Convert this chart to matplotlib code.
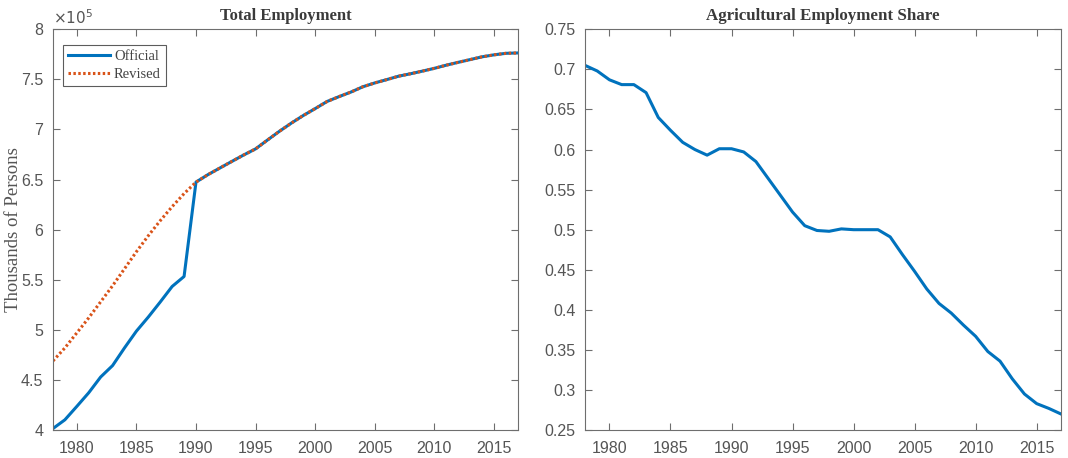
import numpy as np
import matplotlib.pyplot as plt
from matplotlib.ticker import FuncFormatter

years = np.arange(1978, 2018)

# total employment, thousands of persons
official = [401520, 410240, 423610, 437250, 452950, 464360, 481970, 498730,
            512820, 527830, 543340, 553290, 647490, 654910, 661520, 668080,
            674550, 680650, 689500, 698200, 706370, 713940, 720850, 727970,
            732800, 737360, 742640, 746470, 749780, 753210, 755640, 758280,
            761050, 764200, 767040, 769770, 772530, 774510, 776030, 776400]
revised_early = [469000, 482000, 497000, 512000, 528000, 544000, 561000,
                 578000, 594000, 609000, 623000, 636000]
revised = revised_early + official[12:]

# share of employment in agriculture
ag_share = [0.705, 0.698, 0.687, 0.681, 0.681, 0.671, 0.640, 0.624, 0.609,
            0.600, 0.593, 0.601, 0.601, 0.597, 0.585, 0.564, 0.543, 0.522,
            0.505, 0.499, 0.498, 0.501, 0.500, 0.500, 0.500, 0.491, 0.469,
            0.448, 0.426, 0.408, 0.396, 0.381, 0.367, 0.348, 0.336, 0.314,
            0.295, 0.283, 0.277, 0.270]

blue = '#0072BD'
orange = '#D95319'
tick_gray = '#555555'
axis_gray = '#6e6e6e'
serif = 'Liberation Serif'
sans = 'Liberation Sans'

fig = plt.figure(figsize=(10.68, 4.58), dpi=100)
ax1 = fig.add_axes([0.0496, 0.061, 0.4352, 0.875])
ax2 = fig.add_axes([0.5478, 0.061, 0.4457, 0.875])


def style(ax):
    ax.set_xlim(1978, 2017)
    ax.set_xticks(np.arange(1980, 2016, 5))
    ax.tick_params(direction='in', top=True, right=True, length=5,
                   width=0.8, color=axis_gray, labelcolor=tick_gray,
                   labelsize=11.5)
    ax.tick_params(axis='y', pad=7)
    ax.tick_params(axis='x', pad=8)
    for lab in ax.get_xticklabels() + ax.get_yticklabels():
        lab.set_family(sans)
    for sp in ax.spines.values():
        sp.set_color(axis_gray)
        sp.set_linewidth(0.8)


# left panel: total employment
ax1.plot(years, official, color=blue, lw=2.2, label='Official')
ax1.plot(years, revised, color=orange, lw=2.2, ls=(0, (0.8, 0.8)),
         label='Revised')
ax1.set_ylim(400000, 800000)
ax1.set_yticks(np.arange(400000, 800001, 50000))
ax1.yaxis.set_major_formatter(FuncFormatter(lambda v, p: f'{v / 1e5:g}'))
style(ax1)
ax1.set_title('Total Employment', fontfamily=serif, fontweight='bold',
              fontsize=12, color='#3a3a3a', pad=7)
ax1.set_ylabel('Thousands of Persons', fontfamily=serif, fontsize=13.5,
               color=tick_gray)
ax1.yaxis.set_label_coords(-0.066, 0.5)
ax1.text(0.0, 1.005, r'$\times10^5$', transform=ax1.transAxes,
         fontsize=11, color=tick_gray, ha='left', va='bottom')
leg = ax1.legend(loc='upper left', bbox_to_anchor=(0.012, 0.972),
                 prop={'family': serif, 'size': 10.5}, frameon=True,
                 fancybox=False, handlelength=2.9, handletextpad=0.25,
                 borderpad=0.35, labelspacing=0.3, borderaxespad=0.3)
leg.get_frame().set_edgecolor('#333333')
leg.get_frame().set_linewidth(0.8)
for t in leg.get_texts():
    t.set_color('#444444')

# right panel: agricultural share
ax2.plot(years, ag_share, color=blue, lw=2.2)
ax2.set_ylim(0.25, 0.75)
ax2.set_yticks(np.arange(0.25, 0.751, 0.05))
ax2.yaxis.set_major_formatter(FuncFormatter(lambda v, p: f'{v:g}'))
style(ax2)
ax2.set_title('Agricultural Employment Share', fontfamily=serif,
              fontweight='bold', fontsize=12.2, color='#3a3a3a', pad=7)

fig.savefig('out.png', dpi=100)
